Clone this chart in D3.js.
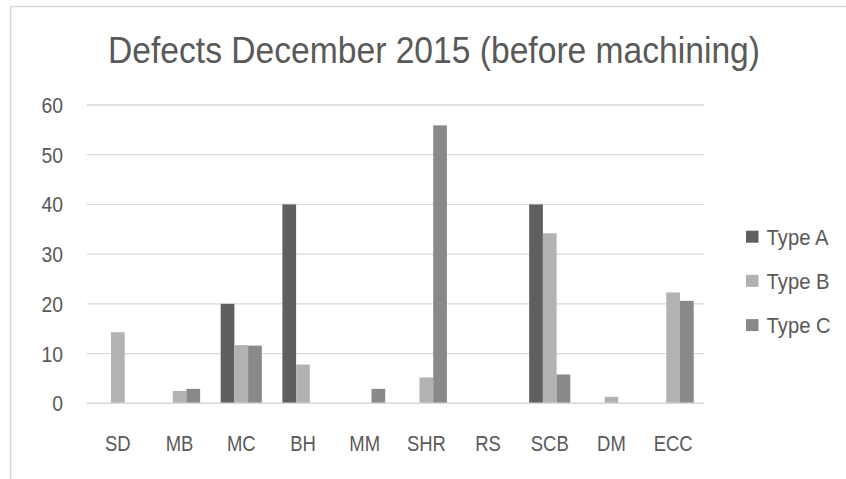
<!DOCTYPE html>
<html>
<head>
<meta charset="utf-8">
<script src="https://cdn.jsdelivr.net/npm/d3@7"></script>
<style>
  html, body { margin: 0; padding: 0; background: #ffffff; }
  svg { display: block; }
  text { font-family: "Liberation Sans Narrow", "Arial Narrow", "Liberation Sans", Arial, sans-serif; fill: #595959; }
</style>
</head>
<body>
<svg id="chart" width="846" height="479"></svg>
<script>
const title = "Defects December 2015 (before machining)";
const categories = ["SD", "MB", "MC", "BH", "MM", "SHR", "RS", "SCB", "DM", "ECC"];
const seriesNames = ["Type A", "Type B", "Type C"];
const typeA = [0, 0, 20, 40, 0, 0, 0, 40, 0, 0];
const typeB = [14.3, 2.5, 11.7, 7.8, 0, 5.2, 0, 34.2, 1.3, 22.3];
const typeC = [0, 2.9, 11.6, 0, 2.9, 55.9, 0, 5.8, 0, 20.6];
const yTicks = [0, 10, 20, 30, 40, 50, 60];
const colors = ["#5f5f5f", "#b2b2b2", "#898989"];

const seriesValues = [typeA, typeB, typeC];
const rows = categories.map((c, i) => ({
  cat: c,
  vals: seriesNames.map((s, j) => ({ series: s, idx: j, value: seriesValues[j][i] }))
}));

// condense text horizontally (reference uses a narrow face)
function condense(sel, factor) {
  sel.each(function () {
    const w = this.getComputedTextLength();
    if (w > 0) {
      d3.select(this).attr("textLength", w * factor).attr("lengthAdjust", "spacingAndGlyphs");
    }
  });
}

const svg = d3.select("#chart");

// chart border
svg.append("rect")
  .attr("x", 10.5).attr("y", 6.5)
  .attr("width", 900).attr("height", 600)
  .attr("fill", "none").attr("stroke", "#d9d9d9").attr("stroke-width", 1.5);

const plot = { left: 87, right: 704, top: 105, bottom: 403.3 };

const x = d3.scaleBand().domain(categories).range([plot.left, plot.right]).paddingInner(0).paddingOuter(0);
const xs = d3.scaleBand().domain(seriesNames).range([0, x.bandwidth()]).paddingInner(0).paddingOuter(0.75);
const y = d3.scaleLinear().domain([0, 60]).range([plot.bottom, plot.top]);

// title
const t = svg.append("text")
  .attr("x", 434).attr("y", 63)
  .attr("text-anchor", "middle")
  .attr("font-size", 36)
  .text(title);
t.attr("textLength", 652).attr("lengthAdjust", "spacingAndGlyphs");

// gridlines
svg.append("g").selectAll("line").data(yTicks).join("line")
  .attr("x1", plot.left).attr("x2", plot.right)
  .attr("y1", d => y(d)).attr("y2", d => y(d))
  .attr("stroke", "#d9d9d9").attr("stroke-width", 1.3);

// y axis labels
const yAxis = d3.axisLeft(y).tickValues(yTicks).tickSize(0).tickPadding(0);
const yg = svg.append("g").attr("transform", `translate(63,0)`).call(yAxis);
yg.select(".domain").remove();
yg.selectAll("text")
  .attr("font-family", null)
  .attr("font-size", 21.5)
  .attr("fill", "#595959")
  .attr("dy", "0.35em")
  .call(condense, 0.9);

// bars
const groups = svg.append("g").selectAll("g").data(rows).join("g")
  .attr("transform", d => `translate(${x(d.cat)},0)`);
groups.selectAll("rect").data(d => d.vals.filter(v => v.value > 0)).join("rect")
  .attr("x", d => xs(d.series))
  .attr("width", xs.bandwidth())
  .attr("y", d => y(d.value))
  .attr("height", d => y(0) - y(d.value))
  .attr("fill", d => colors[d.idx]);

// baseline on top
svg.append("line")
  .attr("x1", plot.left).attr("x2", plot.right)
  .attr("y1", y(0)).attr("y2", y(0))
  .attr("stroke", "#d9d9d9").attr("stroke-width", 1.5);

// x axis labels
const xAxis = d3.axisBottom(x).tickSize(0).tickPadding(0);
const xg = svg.append("g").attr("transform", `translate(0,${y(0) + 39.5})`).call(xAxis);
xg.select(".domain").remove();
xg.selectAll("text")
  .attr("font-family", null)
  .attr("font-size", 22.5)
  .attr("fill", "#595959")
  .attr("dy", "0.35em")
  .call(condense, 0.82);

// legend
const legend = svg.append("g").selectAll("g").data(seriesNames).join("g")
  .attr("transform", (d, i) => `translate(746,${236.7 + i * 44.2})`);
legend.append("rect")
  .attr("x", 0).attr("y", -6).attr("width", 12.5).attr("height", 12)
  .attr("fill", (d, i) => colors[i]);
legend.append("text")
  .attr("x", 20.5).attr("y", 0).attr("dy", "0.35em")
  .attr("font-size", 22.5)
  .text(d => d)
  .call(condense, 0.9);
</script>
</body>
</html>
